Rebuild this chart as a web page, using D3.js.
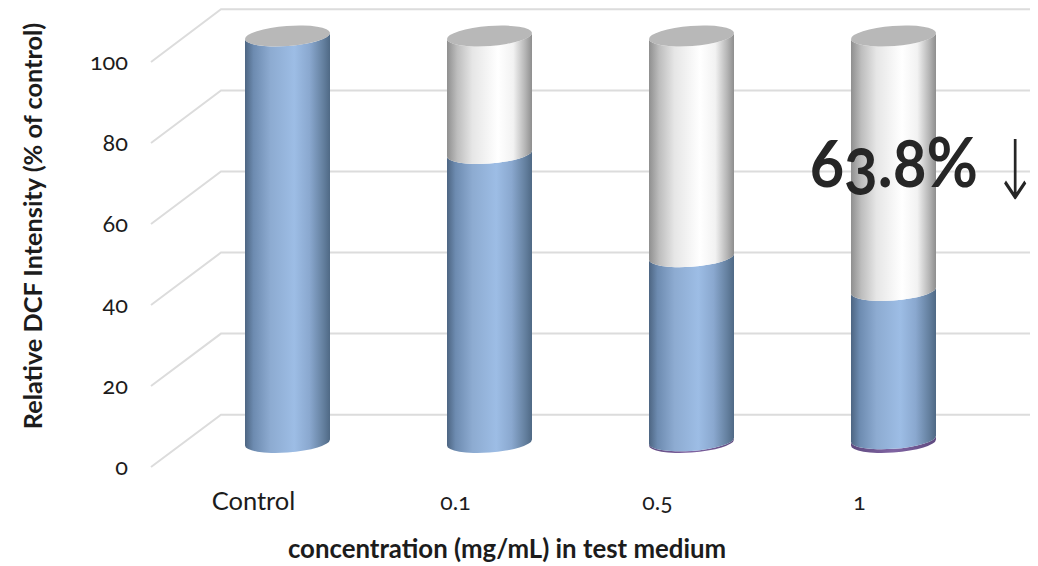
<!DOCTYPE html>
<html><head><meta charset="utf-8">
<script src="https://cdn.jsdelivr.net/npm/d3@7"></script>
<style>
html,body{margin:0;padding:0;background:#fff;overflow:hidden}
text{font-family:Lato,"Open Sans",sans-serif;font-variant-numeric:oldstyle-nums;font-feature-settings:"onum" 1;fill:#1c1c1c}
</style></head><body><svg id="c" width="1038" height="566"></svg>
<script>
const categories = ["Control","0.1","0.5","1"];
const tickValues = [0,20,40,60,80,100];
const baseSeries = [0,0,0.4,0.9];
const blueSeries = [100,71.1,45.3,36.5];
const whiteSeries = [0,28.9,54.3,62.6];
const seriesNames = ["base","blue","white"];
const annotation = "63.8%";
const yTitle = "Relative DCF Intensity (% of control)";
const xTitle = "concentration (mg/mL) in test medium";

const svg = d3.select("#c");
const rows = categories.map((c,i)=>({c,base:baseSeries[i],blue:blueSeries[i],white:whiteSeries[i]}));
const stacked = d3.stack().keys(seriesNames)(rows);

const x = d3.scalePoint().domain(categories).range([287.5,893.5]);
const yBar = d3.scaleLinear().domain([0,100]).range([442.5,36]);
const yFront = d3.scaleLinear().domain([0,100]).range([467,62]);
const yBack = d3.scaleLinear().domain([0,100]).range([414.7,9.3]);
const halfW = 42.5, tilt = 3, rx = 42.6, ry = 10, rot = -4.28;

const defs = svg.append("defs");
function grad(id,stops){
  const g = defs.append("linearGradient").attr("id",id).attr("x1",0).attr("x2",1).attr("y1",0).attr("y2",0);
  stops.forEach(s=>g.append("stop").attr("offset",s[0]).attr("stop-color",s[1]));
}
grad("gBlue",[[0,"#4d6582"],[0.1,"#6d8bb0"],[0.3,"#8dabd1"],[0.58,"#9dbde5"],[0.76,"#8aa8cf"],[0.92,"#64809f"],[1,"#4f6985"]]);
grad("gWhite",[[0,"#8f8f8f"],[0.12,"#bdbdbd"],[0.3,"#e6e6e6"],[0.6,"#ffffff"],[0.78,"#f2f2f2"],[0.92,"#b5b5b5"],[1,"#8e8e8e"]]);
grad("gBase",[[0,"#5f4a80"],[0.5,"#8064a2"],[1,"#5f4a80"]]);
const fills = {base:"url(#gBase)",blue:"url(#gBlue)",white:"url(#gWhite)"};

const grid = svg.append("g").attr("stroke","#dcdcdc").attr("stroke-width",2).attr("fill","none");
tickValues.forEach(v=>{
  grid.append("path").attr("d",d3.line()([[151,yFront(v)],[221,yBack(v)],[1030,yBack(v)]]));
});

const axisY = svg.append("g").attr("transform","translate(128,0)")
  .call(d3.axisLeft(yFront).tickValues(tickValues).tickSize(0).tickPadding(0));
axisY.select(".domain").remove();
axisY.selectAll("text").style("font-size","23.5px").attr("text-anchor","end").attr("dy","0.32em");

function segPath(cx,yTop,yBottom){
  const l=cx-halfW, r=cx+halfW;
  return `M${l},${yTop+tilt}A${rx},${ry} ${rot} 0 0 ${r},${yTop-tilt}`+
         `L${r},${yBottom-tilt}A${rx},${ry} ${rot} 0 1 ${l},${yBottom+tilt}Z`;
}
const bars = svg.append("g");
stacked.forEach(s=>{
  bars.selectAll(null).data(s.filter(d=>d[1]>d[0])).enter().append("path")
    .attr("fill",fills[s.key])
    .attr("d",d=>segPath(x(d.data.c),yBar(d[1]),yBar(d[0])));
});
const topLayer = stacked[stacked.length-1];
bars.selectAll(null).data(topLayer).enter().append("ellipse")
  .attr("cx",0).attr("cy",0).attr("rx",rx).attr("ry",ry).attr("fill","#b8b8b8")
  .attr("transform",d=>`translate(${x(d.data.c)},${yBar(d[1])}) rotate(${rot})`);

svg.append("g").attr("transform","translate(-34,0)")
  .selectAll("text").data(categories).enter().append("text")
    .attr("x",d=>x(d)).attr("y",510).attr("text-anchor","middle")
    .style("font-size",d=>d==="Control"?"25.5px":"23px").text(d=>d);

svg.append("text").attr("x",507).attr("y",558).attr("text-anchor","middle")
  .style("font-size","25.8px").style("font-weight","700").text(xTitle);
svg.append("text").attr("transform","translate(42,226) rotate(-90)").attr("text-anchor","middle")
  .style("font-size","25.3px").style("font-weight","700").text(yTitle);

svg.append("text").attr("x",810).attr("y",187).attr("textLength",168).attr("lengthAdjust","spacingAndGlyphs")
  .style("font-size","68px").style("font-weight","700").style("fill","#262626").text(annotation);
svg.append("text").attr("transform","translate(1015,199) scale(1,1.5)").attr("text-anchor","middle")
  .style("font-size","55px").style("font-family","'DejaVu Sans'").style("font-weight","200").style("fill","#262626").text("↓");
</script></body></html>
